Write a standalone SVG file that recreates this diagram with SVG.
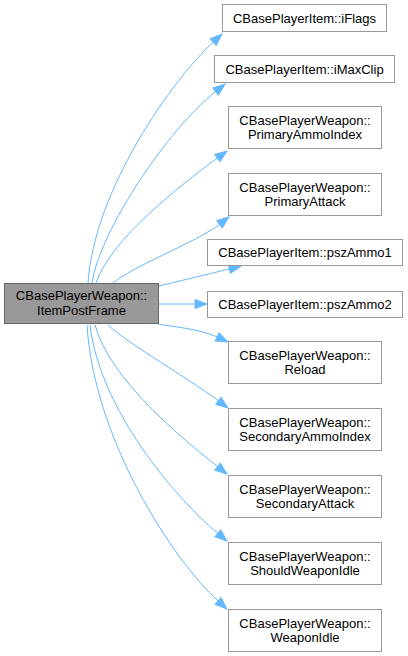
<svg xmlns="http://www.w3.org/2000/svg" width="408" height="656" viewBox="0 0 408 656">
<defs>
<style>
.n rect{fill:#ffffff;stroke:#999999;stroke-width:1}
.m rect{fill:#999999;stroke:#666666;stroke-width:1}
text{font-family:"Liberation Sans",Arial,sans-serif;font-size:13px;fill:#000000;text-anchor:middle}
.e path{fill:none;stroke:#63b8ff;stroke-width:1;marker-end:url(#ah)}
</style>
<marker id="ah" markerUnits="userSpaceOnUse" viewBox="0 -5 12 10" markerWidth="12" markerHeight="10" refX="0" refY="0" orient="auto" overflow="visible">
<path d="M0,-4.5 L12,0 L0,4.5 z" fill="#63b8ff" stroke="#63b8ff" stroke-width="1"/>
</marker>
</defs>
<g id="edges" class="e">
<path d="M88,283 C94,190 172.7,79.3 213.2,42.1"/>
<path d="M92,283 C100,230 168.4,128.7 215.6,91.6"/>
<path d="M96,283 C110,240 181,184.7 217.3,158.1"/>
<path d="M113,283 C135,265 195.7,242.6 219.5,224.3"/>
<path d="M159,286 C175,282 205.2,274.9 229.4,268.9"/>
<path d="M158,304 L195,304"/>
<path d="M158,324 C172,327 199,328.4 217.1,336.9"/>
<path d="M108,325 C130,345 186.4,376.8 218.4,400.8"/>
<path d="M95,325 C110,380 182.5,438.7 217.6,466.6"/>
<path d="M90,325 C100,410 175.5,498.1 217.8,533.3"/>
<path d="M87,325 C94,440 173.7,560.8 218.1,601"/>
</g>
<g id="main" class="m"><rect x="4.5" y="283.5" width="154" height="40"/><text x="81.5" y="300">CBasePlayerWeapon::</text><text x="81.5" y="315">ItemPostFrame</text></g>
<g id="iFlags" class="n"><rect x="222.5" y="4.5" width="164" height="27"/><text x="304.5" y="23">CBasePlayerItem::iFlags</text></g>
<g id="iMaxClip" class="n"><rect x="214.5" y="55.5" width="180" height="27"/><text x="304.5" y="74">CBasePlayerItem::iMaxClip</text></g>
<g id="PrimaryAmmoIndex" class="n"><rect x="228.5" y="106.5" width="153" height="42"/><text x="305" y="124.5">CBasePlayerWeapon::</text><text x="305" y="139">PrimaryAmmoIndex</text></g>
<g id="PrimaryAttack" class="n"><rect x="228.5" y="173.5" width="153" height="42"/><text x="305" y="191.5">CBasePlayerWeapon::</text><text x="305" y="206">PrimaryAttack</text></g>
<g id="pszAmmo1" class="n"><rect x="207.5" y="239.5" width="195" height="26"/><text x="305" y="257">CBasePlayerItem::pszAmmo1</text></g>
<g id="pszAmmo2" class="n"><rect x="207.5" y="291.5" width="195" height="26"/><text x="305" y="308.5">CBasePlayerItem::pszAmmo2</text></g>
<g id="Reload" class="n"><rect x="228.5" y="341.5" width="153" height="42"/><text x="305" y="359.5">CBasePlayerWeapon::</text><text x="305" y="374">Reload</text></g>
<g id="SecondaryAmmoIndex" class="n"><rect x="228.5" y="408.5" width="153" height="42"/><text x="305" y="426.5">CBasePlayerWeapon::</text><text x="305" y="441">SecondaryAmmoIndex</text></g>
<g id="SecondaryAttack" class="n"><rect x="228.5" y="475.5" width="153" height="42"/><text x="305" y="493.5">CBasePlayerWeapon::</text><text x="305" y="508">SecondaryAttack</text></g>
<g id="ShouldWeaponIdle" class="n"><rect x="228.5" y="542.5" width="153" height="42"/><text x="305" y="560.5">CBasePlayerWeapon::</text><text x="305" y="575">ShouldWeaponIdle</text></g>
<g id="WeaponIdle" class="n"><rect x="228.5" y="609.5" width="153" height="42"/><text x="305" y="627.5">CBasePlayerWeapon::</text><text x="305" y="642">WeaponIdle</text></g>
</svg>
